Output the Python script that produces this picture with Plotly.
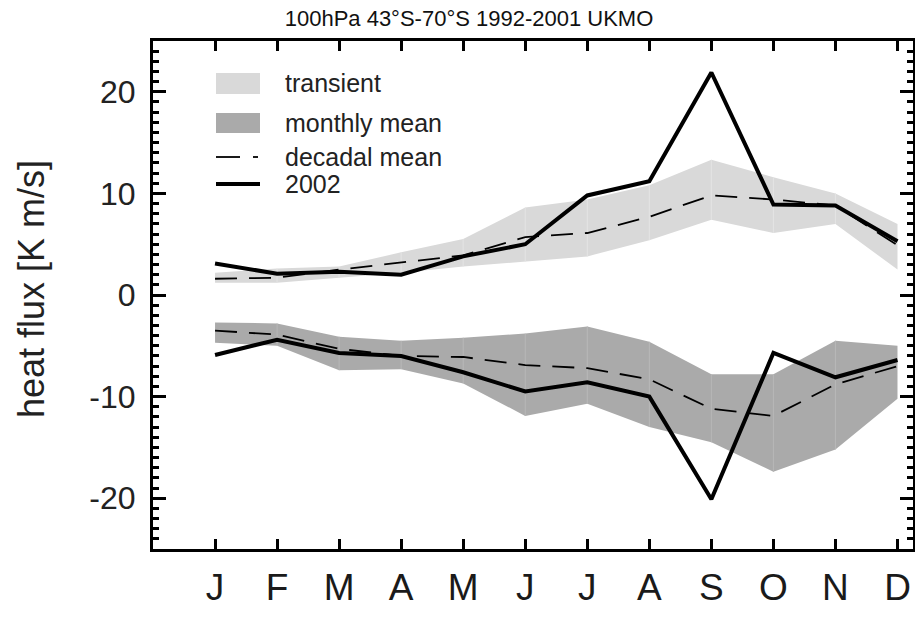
import plotly.graph_objects as go

# Month labels (January .. December)
months = ["J", "F", "M", "A", "M", "J", "J", "A", "S", "O", "N", "D"]
month_idx = list(range(len(months)))

# Poleward (positive) branch: transient eddy heat flux
transient_lo = [1.2, 1.2, 1.7, 2.2, 2.8, 3.3, 3.8, 5.4, 7.4, 6.1, 7.0, 2.5]
transient_hi = [2.2, 2.6, 2.8, 4.2, 5.5, 8.6, 9.4, 10.8, 13.3, 11.6, 10.0, 7.0]
decadal_transient = [1.6, 1.7, 2.5, 3.2, 3.9, 5.7, 6.1, 7.7, 9.8, 9.4, 8.8, 4.9]
y2002_transient = [3.1, 2.1, 2.3, 2.0, 3.8, 5.0, 9.8, 11.2, 21.9, 8.9, 8.8, 5.3]

# Negative branch: monthly-mean (stationary) heat flux
monthly_hi = [-2.7, -2.8, -4.1, -4.5, -4.2, -3.8, -3.1, -4.6, -7.8, -7.8, -4.5, -5.0]
monthly_lo = [-4.7, -5.0, -7.4, -7.3, -8.7, -11.9, -10.7, -13.0, -14.5, -17.4, -15.2, -10.2]
decadal_monthly = [-3.5, -3.9, -5.3, -6.0, -6.1, -6.9, -7.2, -8.3, -11.2, -11.9, -8.8, -7.0]
y2002_monthly = [-5.9, -4.4, -5.7, -6.0, -7.6, -9.5, -8.6, -10.0, -20.1, -5.7, -8.1, -6.4]

y_ticks = [-20, -10, 0, 10, 20]
y_ticktext = ["-20", "-10", "0", "10", "20"]

LIGHT = "#d9d9d9"
DARK = "#aaaaaa"
W, H = 915, 617
ML, MR, MT, MB = 153, 2, 41, 68
PW, PH = W - ML - MR, H - MT - MB
SANS = "Liberation Sans, Arial, Helvetica, sans-serif"


def px(x):
    return (x - ML) / PW


def py(y):
    return (H - MB - y) / PH


fig = go.Figure()

# shaded ranges, with the faint seams between monthly polygon pieces
for lo, hi, col, seam in [(transient_lo, transient_hi, LIGHT, "#e4e4e4"),
                          (monthly_lo, monthly_hi, DARK, "#b8b8b8")]:
    fig.add_trace(go.Scatter(x=month_idx, y=lo, mode="lines", line=dict(width=0, color=col),
                             showlegend=False, hoverinfo="skip"))
    fig.add_trace(go.Scatter(x=month_idx, y=hi, mode="lines", line=dict(width=0, color=col),
                             fill="tonexty", fillcolor=col, showlegend=False, hoverinfo="skip"))
    sx, sy = [], []
    for i in month_idx[1:-1]:
        sx += [i, i, None]
        sy += [lo[i], hi[i], None]
    fig.add_trace(go.Scatter(x=sx, y=sy, mode="lines", line=dict(width=1, color=seam),
                             showlegend=False, hoverinfo="skip"))

# decadal means (dashed) and 2002 (thick)
for ys in (decadal_transient, decadal_monthly):
    fig.add_trace(go.Scatter(x=month_idx, y=ys, mode="lines",
                             line=dict(color="black", width=1.8, dash="22px,12px"),
                             showlegend=False))
for ys in (y2002_transient, y2002_monthly):
    fig.add_trace(go.Scatter(x=month_idx, y=ys, mode="lines",
                             line=dict(color="black", width=4),
                             showlegend=False))

shapes = []
annotations = []

# legend keys
legend_rows = [
    ("box", LIGHT, 73, 94, 83, "transient"),
    ("box", DARK, 113, 133, 123, "monthly mean"),
    ("dash", None, None, None, 157, "decadal mean"),
    ("solid", None, None, None, 184, "2002"),
]
for kind, col, y0, y1, yc, label in legend_rows:
    if kind == "box":
        shapes.append(dict(type="rect", xref="paper", yref="paper",
                           x0=px(216), x1=px(260), y0=py(y1), y1=py(y0),
                           fillcolor=col, line=dict(width=0)))
    elif kind == "dash":
        shapes.append(dict(type="line", xref="paper", yref="paper",
                           x0=px(216), x1=px(240), y0=py(yc), y1=py(yc),
                           line=dict(color="black", width=1.8)))
        shapes.append(dict(type="line", xref="paper", yref="paper",
                           x0=px(253), x1=px(258), y0=py(yc), y1=py(yc),
                           line=dict(color="black", width=1.8)))
    else:
        shapes.append(dict(type="line", xref="paper", yref="paper",
                           x0=px(216), x1=px(260), y0=py(yc), y1=py(yc),
                           line=dict(color="black", width=4)))
    annotations.append(dict(text=label, xref="paper", yref="paper", x=px(283), y=py(yc),
                            xanchor="left", yanchor="middle", showarrow=False,
                            font=dict(family=SANS, size=25, color="#222222")))

# y-axis title
annotations.append(dict(text="heat flux [K m/s]", xref="paper", yref="paper",
                        x=px(31), y=py(289), textangle=-90, xanchor="center",
                        yanchor="middle", showarrow=False,
                        font=dict(family=SANS, size=36, color="#222222")))

fig.update_layout(
    template="none",
    width=W, height=H,
    margin=dict(l=ML, r=MR, t=MT, b=MB, pad=0, autoexpand=False),
    paper_bgcolor="white", plot_bgcolor="white",
    showlegend=False,
    title=dict(text="100hPa 43°S-70°S 1992-2001 UKMO", x=469 / W, xanchor="center",
               xref="container", y=1 - 18 / H, yanchor="middle", yref="container",
               font=dict(family=SANS, size=22, color="#111111")),
    shapes=shapes, annotations=annotations,
)

fig.update_xaxes(
    range=[-1, 11.25], tickvals=month_idx, ticktext=months, automargin=False,
    showline=True, linecolor="black", linewidth=3, mirror="allticks",
    ticks="inside", ticklen=10, tickwidth=3, tickcolor="black",
    showgrid=False, zeroline=False, ticklabelstandoff=4,
    tickfont=dict(family=SANS, size=37, color="#1a1a1a"),
)
fig.update_yaxes(
    range=[-25, 25], tickvals=y_ticks, ticktext=y_ticktext, automargin=False,
    showline=True, linecolor="black", linewidth=3, mirror="allticks",
    ticks="inside", ticklen=13, tickwidth=3, tickcolor="black",
    minor=dict(ticks="inside", dtick=1, tick0=0, ticklen=6, tickwidth=2.5, tickcolor="black",
               showgrid=False),
    showgrid=False, zeroline=False, ticklabelstandoff=8,
    tickfont=dict(family=SANS, size=32, color="#222222"),
)

fig.write_html("out.html")
